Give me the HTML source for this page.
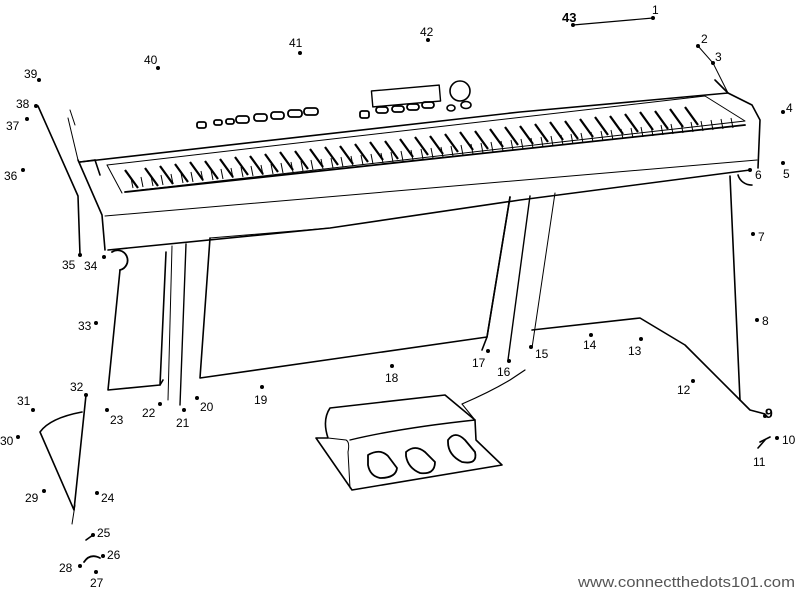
<!DOCTYPE html>
<html><head><meta charset="utf-8"><style>
html,body{margin:0;padding:0;background:#fff}
svg{display:block}
text{font-family:"Liberation Sans",sans-serif;font-size:12px;fill:#000}
</style></head><body>
<svg width="800" height="592" viewBox="0 0 800 592" xmlns="http://www.w3.org/2000/svg">
<g fill="none" stroke="#000" stroke-width="1.6" stroke-linecap="round" stroke-linejoin="round">
<path d="M80,162 L520,112 L728,93 L715,80"/>
<path d="M728,93 L752,105 L760,120 L758,168"/>
<path d="M80,162 L95,160"/>
<path d="M95,160 L100,175"/>
<path d="M107,165 L705,96 L745,121 L140,190" stroke-width="1"/>
<path d="M107,165 L122,193" stroke-width="1"/>
<path d="M125,192 L745,125" stroke-width="1.8"/>
<path d="M105,216 L757,160" stroke-width="1"/>
<path d="M108,250 L330,228 L520,200 L750,170" stroke-width="1.6"/>
<path d="M38,106 L78,196 L80,255"/>
<path d="M78,160 L102,215 L105,250"/>
<path d="M68,118 L78,160" stroke-width="1"/>
<path d="M70,110 L75,125" stroke-width="1"/>
<path d="M112,252 A10,10 0 1 1 120,270" stroke-width="1.8"/>
<path d="M120,270 L108,390 L160,385 L166,252"/>
<path d="M160,385 L163,380"/>
<path d="M172,246 L168,400" stroke-width="1"/>
<path d="M186,244 L180,405" stroke-width="1.4"/>
<path d="M210,238 L200,378 L487,337 L510,197"/>
<path d="M210,238 L330,228" stroke-width="1"/>
<path d="M510,197 L487,337 L482,350"/>
<path d="M530,196 L508,360" stroke-width="1.4"/>
<path d="M555,193 L532,348" stroke-width="1"/>
<path d="M532,330 L640,318 L685,345 L740,400"/>
<path d="M740,400 L730,176"/>
<path d="M738,175 A14,14 0 0 0 752,185" stroke-width="1.6"/>
<path d="M740,400 L750,410 L765,414" stroke-width="1.6"/>
<path d="M760,442 L770,437" />
<path d="M758,448 L765,440" />
<path d="M86,395 L74,510 L40,432 Q50,418 82,412"/>
<path d="M75,505 L72,524" stroke-width="1"/>
<path d="M84,562 Q90,553 100,558" stroke-width="1.8"/>
<path d="M86,540 L93,535" stroke-width="1.6"/>
<path d="M462,404 Q490,392 510,380 L525,370" stroke-width="1.2"/>
<path d="M316,438 L328,438 Q322,420 330,408 L445,395 L475,420 L476,440 L502,465 L352,490 L316,438Z"/>
<path d="M462,404 L475,420" stroke-width="1"/>
<path d="M328,438 L346,440 Q350,442 348,452 L350,488" stroke-width="1"/>
<path d="M350,440 Q400,428 475,420" stroke-width="1.4"/>
<path d="M368,455 Q380,448 388,456 L397,468 Q396,478 380,478 Q370,476 368,465Z" stroke-width="1.8"/>
<path d="M406,452 Q415,444 425,452 L435,462 Q435,475 420,473 Q408,468 406,456Z" stroke-width="1.8"/>
<path d="M448,440 Q455,430 465,440 L475,452 Q478,465 462,462 Q448,455 448,442Z" stroke-width="1.8"/>
<rect x="372" y="88" width="68" height="16" transform="rotate(-5 406 96)" stroke-width="1.4"/>
<circle cx="460" cy="91" r="10" stroke-width="1.6"/>
<ellipse cx="451" cy="108" rx="4" ry="3" stroke-width="1.6"/>
<ellipse cx="466" cy="105" rx="5" ry="3.5" stroke-width="1.6"/>
<g stroke-width="1.8">
<rect x="197" y="122" width="9" height="6" rx="2"/>
<rect x="214" y="120" width="8" height="5" rx="2"/>
<rect x="226" y="119" width="8" height="5" rx="2"/>
<rect x="236" y="116" width="13" height="7" rx="3"/>
<rect x="254" y="114" width="13" height="7" rx="3"/>
<rect x="271" y="112" width="13" height="7" rx="3"/>
<rect x="288" y="110" width="14" height="7" rx="3"/>
<rect x="304" y="108" width="14" height="7" rx="3"/>
<rect x="360" y="111" width="9" height="7" rx="2"/>
<rect x="376" y="107" width="12" height="6" rx="3"/>
<rect x="392" y="106" width="12" height="6" rx="3"/>
<rect x="407" y="104" width="12" height="6" rx="3"/>
<rect x="422" y="102" width="12" height="6" rx="3"/>
</g>
</g>
<g stroke="#000" stroke-width="2.2">
<path d="M125,170 L138,188 M145,168 L158,186 M160,166 L173,184 M175,164 L188,182 M190,162 L203,180 M205,161 L218,179 M220,159 L233,177 M235,157 L248,175 M250,156 L263,174 M265,154 L278,172 M280,152 L293,170 M295,151 L308,169 M310,149 L323,167 M325,147 L338,165 M340,146 L353,164 M355,144 L368,162 M370,142 L383,160 M385,141 L398,159 M400,139 L413,157 M415,137 L428,155 M430,136 L443,154 M445,134 L458,152 M460,132 L473,150 M475,131 L488,149 M490,129 L503,147 M505,127 L518,145 M520,126 L533,144 M535,124 L548,142 M550,122 L563,140 M565,121 L578,139 M580,119 L593,137 M595,117 L608,135 M610,116 L623,134 M625,114 L638,132 M640,112 L653,130 M655,111 L668,129 M670,109 L683,127 M685,107 L698,125"/>
</g>
<g stroke="#000" stroke-width="1">
<path d="M133,188 L131,178 M143,187 L141,177 M153,186 L151,176 M163,185 L161,175 M173,184 L171,174 M183,183 L181,173 M193,182 L191,172 M203,181 L201,171 M213,180 L211,170 M223,179 L221,169 M233,178 L231,168 M243,177 L241,167 M253,176 L251,166 M263,175 L261,165 M273,174 L271,164 M283,173 L281,163 M293,172 L291,162 M303,171 L301,161 M313,170 L311,160 M323,169 L321,159 M333,168 L331,158 M343,167 L341,157 M353,166 L351,156 M363,165 L361,155 M373,164 L371,154 M383,163 L381,153 M393,162 L391,152 M403,161 L401,151 M413,160 L411,150 M423,159 L421,149 M433,158 L431,148 M443,157 L441,147 M453,156 L451,146 M463,155 L461,145 M473,154 L471,144 M483,153 L481,143 M493,152 L491,142 M503,151 L501,141 M513,150 L511,140 M523,149 L521,139 M533,148 L531,138 M543,147 L541,137 M553,146 L551,136 M563,145 L561,135 M573,144 L571,134 M583,143 L581,133 M593,142 L591,132 M603,141 L601,131 M613,140 L611,130 M623,139 L621,129 M633,138 L631,128 M643,137 L641,127 M653,136 L651,126 M663,135 L661,125 M673,134 L671,124 M683,133 L681,123 M693,132 L691,122 M703,131 L701,121 M713,130 L711,120 M723,129 L721,119 M733,128 L731,118"/>
</g>
<line x1="573" y1="25" x2="653" y2="18" stroke="#000" stroke-width="1.2"/>
<path d="M698,46 L713,63 L728,93" fill="none" stroke="#000" stroke-width="1"/>
<g fill="#000">
<circle cx="653" cy="18" r="2"/><circle cx="573" cy="25" r="2"/><circle cx="698" cy="46" r="2"/><circle cx="713" cy="63" r="2"/>
<circle cx="783" cy="112" r="2"/><circle cx="783" cy="163" r="2"/><circle cx="750" cy="170" r="2"/><circle cx="753" cy="234" r="2"/>
<circle cx="757" cy="320" r="2"/><circle cx="765" cy="416" r="2"/><circle cx="777" cy="438" r="2"/><circle cx="693" cy="381" r="2"/>
<circle cx="641" cy="339" r="2"/><circle cx="591" cy="335" r="2"/><circle cx="531" cy="347" r="2"/><circle cx="509" cy="361" r="2"/>
<circle cx="488" cy="351" r="2"/><circle cx="392" cy="366" r="2"/><circle cx="262" cy="387" r="2"/><circle cx="197" cy="398" r="2"/>
<circle cx="184" cy="410" r="2"/><circle cx="160" cy="404" r="2"/><circle cx="107" cy="410" r="2"/><circle cx="97" cy="493" r="2"/>
<circle cx="93" cy="535" r="2"/><circle cx="103" cy="556" r="2"/><circle cx="96" cy="572" r="2"/><circle cx="80" cy="566" r="2"/>
<circle cx="44" cy="491" r="2"/><circle cx="18" cy="437" r="2"/><circle cx="33" cy="410" r="2"/><circle cx="86" cy="395" r="2"/>
<circle cx="96" cy="323" r="2"/><circle cx="104" cy="257" r="2"/><circle cx="80" cy="255" r="2"/><circle cx="23" cy="170" r="2"/>
<circle cx="27" cy="119" r="2"/><circle cx="36" cy="106" r="2"/><circle cx="39" cy="80" r="2"/><circle cx="158" cy="68" r="2"/>
<circle cx="300" cy="53" r="2"/><circle cx="428" cy="40" r="2"/>
</g>
<g>
<text x="652" y="14">1</text><text x="562" y="22" style="font-weight:bold;font-size:13px">43</text>
<text x="701" y="43">2</text><text x="715" y="61">3</text><text x="786" y="112">4</text><text x="783" y="178">5</text>
<text x="755" y="179">6</text><text x="758" y="241">7</text><text x="762" y="325">8</text><text x="765" y="418" style="font-weight:bold;font-size:14px">9</text>
<text x="782" y="444">10</text><text x="753" y="466">11</text><text x="677" y="394">12</text><text x="628" y="355">13</text>
<text x="583" y="349">14</text><text x="535" y="358">15</text><text x="497" y="376">16</text><text x="472" y="367">17</text>
<text x="385" y="382">18</text><text x="254" y="404">19</text><text x="200" y="411">20</text><text x="176" y="427">21</text>
<text x="142" y="417">22</text><text x="110" y="424">23</text><text x="101" y="502">24</text><text x="97" y="537">25</text>
<text x="107" y="559">26</text><text x="90" y="587">27</text><text x="59" y="572">28</text><text x="25" y="502">29</text>
<text x="0" y="445">30</text><text x="17" y="405">31</text><text x="70" y="391">32</text><text x="78" y="330">33</text>
<text x="84" y="270">34</text><text x="62" y="269">35</text><text x="4" y="180">36</text><text x="6" y="130">37</text>
<text x="16" y="108">38</text><text x="24" y="78">39</text><text x="144" y="64">40</text><text x="289" y="47">41</text>
<text x="420" y="36">42</text>
</g>
<text x="578" y="587" textLength="217" lengthAdjust="spacingAndGlyphs" style="font-size:15px;fill:#555">www.connectthedots101.com</text>
</svg>
</body></html>
